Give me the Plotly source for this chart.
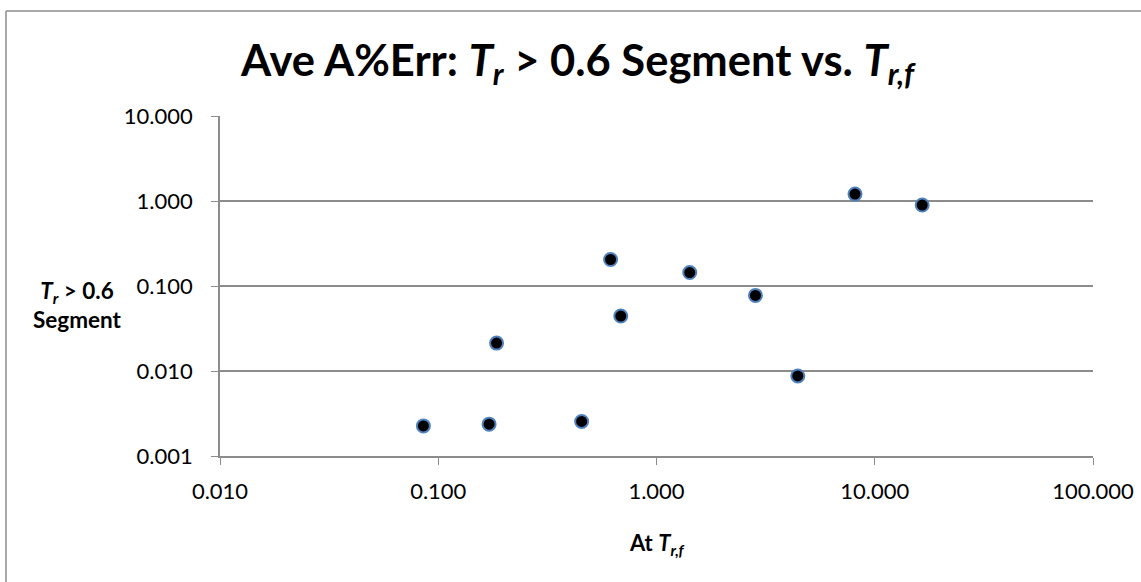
import plotly.graph_objects as go

# Average absolute % error: Tr > 0.6 segment vs. value at Tr,f
at_trf = [0.0855, 0.171, 0.454, 0.185, 0.616, 0.686, 1.42, 2.84, 4.44, 8.12, 16.5]
seg_tr06 = [0.00226, 0.00237, 0.00255, 0.0213, 0.205, 0.0443, 0.144, 0.0775, 0.00875, 1.205, 0.897]

x_ticks = [0.01, 0.1, 1, 10, 100]
y_ticks = [0.001, 0.01, 0.1, 1, 10]

W, H = 1141, 582
L, R, T, B = 220, 48, 116, 126
pw, ph = W - L - R, H - T - B

axis_grey = "#8C8C8C"
font_main = "Lato, 'Open Sans', sans-serif"


def px_x(px):
    return (px - L) / pw


def px_y(py):
    return (H - B - py) / ph


fig = go.Figure(
    go.Scatter(
        x=at_trf,
        y=seg_tr06,
        mode="markers",
        marker=dict(size=13, color="black", line=dict(color="#4F81BD", width=2)),
        hoverinfo="x+y",
    )
)

fig.update_layout(
    width=W,
    height=H,
    margin=dict(l=L, r=R, t=T, b=B),
    paper_bgcolor="white",
    plot_bgcolor="white",
    showlegend=False,
    font=dict(family=font_main, color="black", size=22),
    xaxis=dict(
        type="log",
        range=[-2, 2],
        tickvals=x_ticks,
        tickformat=".3f",
        showgrid=False,
        showline=True,
        linecolor=axis_grey,
        linewidth=1.5,
        ticks="outside",
        ticklen=7,
        tickcolor=axis_grey,
        tickfont=dict(size=22),
        ticklabelstandoff=8,
        zeroline=False,
        automargin=False,
    ),
    yaxis=dict(
        type="log",
        range=[-3, 1],
        tickvals=y_ticks,
        tickformat=".3f",
        showgrid=True,
        gridcolor=axis_grey,
        gridwidth=1.5,
        showline=True,
        linecolor=axis_grey,
        linewidth=1.5,
        ticks="outside",
        ticklen=7,
        tickcolor=axis_grey,
        tickfont=dict(size=22),
        ticklabelstandoff=14,
        zeroline=False,
        automargin=False,
    ),
    annotations=[
        dict(
            text="<b>Ave A%Err: <i>T<sub>r</sub></i> > 0.6 Segment vs. <i>T<sub>r,f</sub></i></b>",
            xref="paper",
            yref="paper",
            x=px_x(578),
            y=px_y(62),
            xanchor="center",
            yanchor="middle",
            showarrow=False,
            font=dict(size=43.5),
        ),
        dict(
            text="<b><i>T<sub>r</sub></i> > 0.6<br>Segment</b>",
            xref="paper",
            yref="paper",
            x=px_x(77),
            y=px_y(305),
            xanchor="center",
            yanchor="middle",
            showarrow=False,
            align="center",
            font=dict(size=22.5),
        ),
        dict(
            text="<b>At <i>T<sub>r,f</sub></i></b>",
            xref="paper",
            yref="paper",
            x=px_x(657),
            y=px_y(544),
            xanchor="center",
            yanchor="middle",
            showarrow=False,
            font=dict(size=22),
        ),
    ],
    shapes=[
        # gridline at the top of the value range
        dict(type="line", xref="paper", yref="y",
             x0=0, x1=1, y0=1, y1=1,
             line=dict(color=axis_grey, width=1.5), layer="below"),
        # chart-area frame (top and left edges)
        dict(type="line", xref="paper", yref="paper",
             x0=px_x(6), x1=px_x(W + 5),
             y0=px_y(11), y1=px_y(11),
             line=dict(color=axis_grey, width=1.5)),
        dict(type="line", xref="paper", yref="paper",
             x0=px_x(6), x1=px_x(6),
             y0=px_y(11), y1=px_y(H + 5),
             line=dict(color=axis_grey, width=1.5)),
    ],
)

fig.write_html("out.html")
